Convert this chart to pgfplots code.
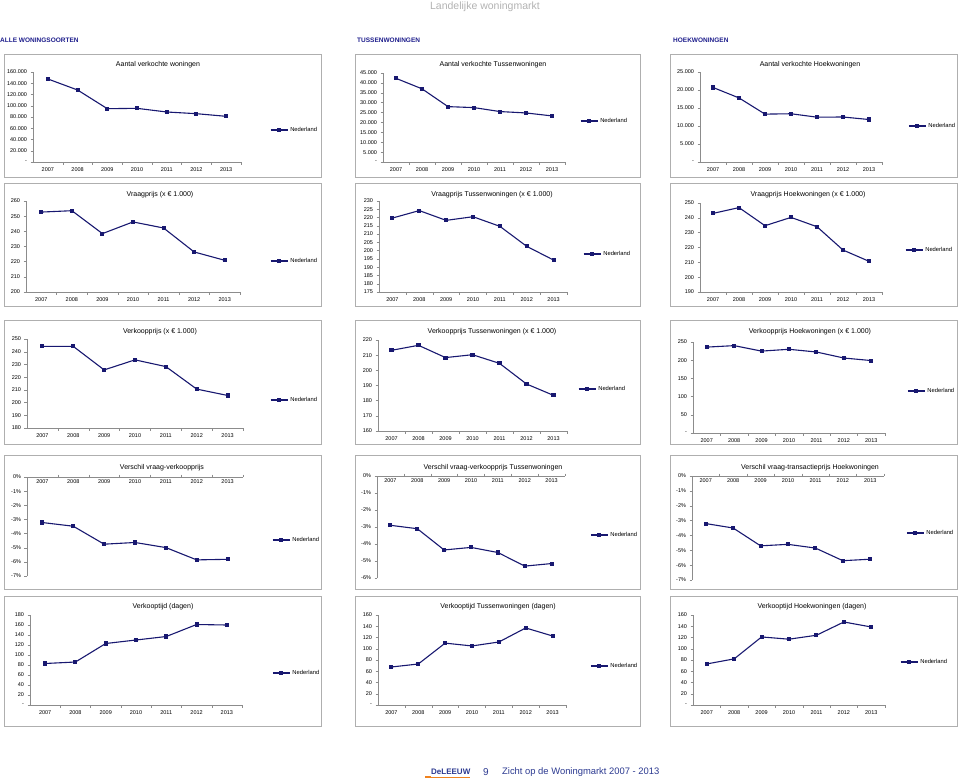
\documentclass[border=0pt]{standalone}
\usepackage{fontspec}
\setmainfont{Liberation Sans}
\usepackage{pgfplots}
\pgfplotsset{compat=1.18}
\definecolor{navy}{RGB}{24,24,112}
\definecolor{axisgray}{RGB}{140,140,140}
\definecolor{framegray}{RGB}{175,175,175}
\definecolor{headblue}{RGB}{30,30,140}
\definecolor{footblue}{RGB}{43,57,144}
\definecolor{logoorange}{RGB}{240,130,30}
\pgfplotsset{
 panel/.style={scale only axis, anchor=south west, xmin=0.5, xmax=7.5,
   xtick={1,2,3,4,5,6,7}, xticklabels={2007,2008,2009,2010,2011,2012,2013},
   minor xtick={1.5,2.5,3.5,4.5,5.5,6.5,7.5},
   axis x line*=bottom, axis y line*=left,
   axis line style={draw=axisgray, line width=0.5pt},
   tick style={draw=axisgray, line width=0.4pt},
   major x tick style={draw=none},
   tick align=outside, major tick length=2.5pt, minor tick length=2.5pt,
   scaled y ticks=false,
   ticklabel style={font=\fontsize{5.5}{6.5}\selectfont},
   legend style={draw=none, fill=none, anchor=west, inner sep=0pt, font=\fontsize{5.8}{7}\selectfont, legend cell align=left},
   clip=false,
 },
 neg/.style={axis x line*=top, xticklabel style={anchor=north, yshift=-2pt}},
 nl/.style={navy, line width=1.1pt, mark=square*, mark size=1.5pt},
}
\begin{document}
\begin{tikzpicture}
\useasboundingbox (0,0) rectangle (960pt,-781pt);
% header
\node[font=\fontsize{10.5}{12}\selectfont, text=black!30] at (485pt,-7pt) {Landelijke woningmarkt};
\node[font=\bfseries\fontsize{6.5}{8}\selectfont, text=headblue, anchor=west, inner sep=0pt] at (0pt,-40pt) {ALLE WONINGSOORTEN};
\node[font=\bfseries\fontsize{6.5}{8}\selectfont, text=headblue, anchor=west, inner sep=0pt] at (357pt,-40pt) {TUSSENWONINGEN};
\node[font=\bfseries\fontsize{6.5}{8}\selectfont, text=headblue, anchor=west, inner sep=0pt] at (673pt,-40pt) {HOEKWONINGEN};
% frames
\foreach \ya/\yb in {54/177,183/306,320/444,455/589,596/726}{
  \draw[framegray, line width=0.7pt] (4pt,-\ya pt) rectangle (321pt,-\yb pt);
  \draw[framegray, line width=0.7pt] (355pt,-\ya pt) rectangle (640pt,-\yb pt);
  \draw[framegray, line width=0.7pt] (670pt,-\ya pt) rectangle (957pt,-\yb pt);
}
% titles
\tikzset{ttl/.style={font=\fontsize{7}{8}\selectfont}}
\node[ttl] at (158pt,-65pt) {Aantal verkochte woningen};
\node[ttl] at (493pt,-65pt) {Aantal verkochte Tussenwoningen};
\node[ttl] at (810pt,-65pt) {Aantal verkochte Hoekwoningen};
\node[ttl] at (160pt,-195pt) {Vraagprijs (x € 1.000)};
\node[ttl] at (492pt,-195pt) {Vraagprijs Tussenwoningen (x € 1.000)};
\node[ttl] at (808pt,-195pt) {Vraagprijs Hoekwoningen (x € 1.000)};
\node[ttl] at (160pt,-332pt) {Verkoopprijs (x € 1.000)};
\node[ttl] at (492pt,-332pt) {Verkoopprijs Tussenwoningen (x € 1.000)};
\node[ttl] at (810pt,-332pt) {Verkoopprijs Hoekwoningen (x € 1.000)};
\node[ttl] at (162pt,-468pt) {Verschil vraag-verkoopprijs};
\node[ttl] at (493pt,-468pt) {Verschil vraag-verkoopprijs Tussenwoningen};
\node[ttl] at (810pt,-468pt) {Verschil vraag-transactieprijs Hoekwoningen};
\node[ttl] at (163pt,-607pt) {Verkooptijd (dagen)};
\node[ttl] at (498pt,-607pt) {Verkooptijd Tussenwoningen (dagen)};
\node[ttl] at (812pt,-607pt) {Verkooptijd Hoekwoningen (dagen)};

% ---------- Row 1
\begin{axis}[panel, at={(33pt,-162pt)}, width=208pt, height=90pt, ymin=0, ymax=160000,
  ytick={0,20000,40000,60000,80000,100000,120000,140000,160000},
  yticklabels={-,20.000,40.000,60.000,80.000,100.000,120.000,140.000,160.000},
  legend style={at={(1.139,0.356)}}]
\addplot[nl] coordinates {(1,147600)(2,128000)(3,94800)(4,95400)(5,88900)(6,85900)(7,81200)};
\addlegendentry{Nederland}
\end{axis}
\begin{axis}[panel, at={(383pt,-162pt)}, width=182pt, height=89pt, ymin=0, ymax=45000,
  ytick={0,5000,10000,15000,20000,25000,30000,35000,40000,45000},
  yticklabels={-,5.000,10.000,15.000,20.000,25.000,30.000,35.000,40.000,45.000},
  legend style={at={(1.082,0.461)}}]
\addplot[nl] coordinates {(1,42300)(2,37000)(3,28000)(4,27500)(5,25500)(6,24800)(7,23300)};
\addlegendentry{Nederland}
\end{axis}
\begin{axis}[panel, at={(700pt,-162pt)}, width=182pt, height=90pt, ymin=0, ymax=25000,
  ytick={0,5000,10000,15000,20000,25000},
  yticklabels={-,5.000,10.000,15.000,20.000,25.000},
  legend style={at={(1.143,0.4)}}]
\addplot[nl] coordinates {(1,20700)(2,17800)(3,13300)(4,13400)(5,12450)(6,12500)(7,11800)};
\addlegendentry{Nederland}
\end{axis}

% ---------- Row 2
\begin{axis}[panel, at={(26pt,-292pt)}, width=214pt, height=91pt, ymin=200, ymax=260,
  ytick={200,210,220,230,240,250,260},
  yticklabels={200,210,220,230,240,250,260},
  legend style={at={(1.140,0.341)}}]
\addplot[nl] coordinates {(1,252.7)(2,253.6)(3,238.5)(4,246.2)(5,242.2)(6,226.4)(7,220.9)};
\addlegendentry{Nederland}
\end{axis}
\begin{axis}[panel, at={(379pt,-292pt)}, width=188pt, height=91pt, ymin=175, ymax=230,
  ytick={175,180,185,190,195,200,205,210,215,220,225,230},
  yticklabels={175,180,185,190,195,200,205,210,215,220,225,230},
  legend style={at={(1.085,0.418)}}]
\addplot[nl] coordinates {(1,219.7)(2,224.2)(3,218.3)(4,220.5)(5,214.7)(6,202.6)(7,194.3)};
\addlegendentry{Nederland}
\end{axis}
\begin{axis}[panel, at={(700pt,-292pt)}, width=182pt, height=89pt, ymin=190, ymax=250,
  ytick={190,200,210,220,230,240,250},
  yticklabels={190,200,210,220,230,240,250},
  legend style={at={(1.126,0.472)}}]
\addplot[nl] coordinates {(1,243.0)(2,246.9)(3,234.7)(4,240.3)(5,234.0)(6,218.3)(7,210.7)};
\addlegendentry{Nederland}
\end{axis}

% ---------- Row 3
\begin{axis}[panel, at={(27pt,-428pt)}, width=216pt, height=89pt, ymin=180, ymax=250,
  ytick={180,190,200,210,220,230,240,250},
  yticklabels={180,190,200,210,220,230,240,250},
  legend style={at={(1.125,0.315)}}]
\addplot[nl] coordinates {(1,244.2)(2,244.2)(3,225.7)(4,233.6)(5,228.3)(6,210.6)(7,205.6)};
\addlegendentry{Nederland}
\end{axis}
\begin{axis}[panel, at={(378pt,-431pt)}, width=189pt, height=91pt, ymin=160, ymax=220,
  ytick={160,170,180,190,200,210,220},
  yticklabels={160,170,180,190,200,210,220},
  legend style={at={(1.058,0.462)}}]
\addplot[nl] coordinates {(1,213.2)(2,216.5)(3,208.4)(4,210.3)(5,204.6)(6,191.0)(7,183.5)};
\addlegendentry{Nederland}
\end{axis}
\begin{axis}[panel, at={(693pt,-433pt)}, width=192pt, height=91pt, ymin=0, ymax=250,
  ytick={0,50,100,150,200,250},
  yticklabels={-,50,100,150,200,250},
  legend style={at={(1.115,0.462)}}]
\addplot[nl] coordinates {(1,236)(2,240)(3,225)(4,230)(5,222.5)(6,206)(7,199)};
\addlegendentry{Nederland}
\end{axis}

% ---------- Row 4
\begin{axis}[panel, neg, at={(27pt,-576pt)}, width=216pt, height=99pt, ymin=-7, ymax=0,
  ytick={-7,-6,-5,-4,-3,-2,-1,0},
  yticklabels={-7\%,-6\%,-5\%,-4\%,-3\%,-2\%,-1\%,0\%},
  legend style={at={(1.134,0.364)}}]
\addplot[nl] coordinates {(1,-3.22)(2,-3.48)(3,-4.75)(4,-4.63)(5,-4.99)(6,-5.86)(7,-5.82)};
\addlegendentry{Nederland}
\end{axis}
\begin{axis}[panel, neg, at={(377pt,-578pt)}, width=188pt, height=102pt, ymin=-6, ymax=0,
  ytick={-6,-5,-4,-3,-2,-1,0},
  yticklabels={-6\%,-5\%,-4\%,-3\%,-2\%,-1\%,0\%},
  legend style={at={(1.133,0.422)}}]
\addplot[nl] coordinates {(1,-2.9)(2,-3.1)(3,-4.35)(4,-4.2)(5,-4.5)(6,-5.3)(7,-5.15)};
\addlegendentry{Nederland}
\end{axis}
\begin{axis}[panel, neg, at={(692pt,-580pt)}, width=192pt, height=104pt, ymin=-7, ymax=0,
  ytick={-7,-6,-5,-4,-3,-2,-1,0},
  yticklabels={-7\%,-6\%,-5\%,-4\%,-3\%,-2\%,-1\%,0\%},
  legend style={at={(1.115,0.452)}}]
\addplot[nl] coordinates {(1,-3.2)(2,-3.5)(3,-4.7)(4,-4.6)(5,-4.85)(6,-5.7)(7,-5.6)};
\addlegendentry{Nederland}
\end{axis}

% ---------- Row 5
\begin{axis}[panel, at={(30pt,-705pt)}, width=212pt, height=90pt, ymin=0, ymax=180,
  ytick={0,20,40,60,80,100,120,140,160,180},
  yticklabels={-,20,40,60,80,100,120,140,160,180},
  legend style={at={(1.142,0.356)}}]
\addplot[nl] coordinates {(1,83)(2,86)(3,123)(4,130)(5,137)(6,161)(7,160)};
\addlegendentry{Nederland}
\end{axis}
\begin{axis}[panel, at={(378pt,-705pt)}, width=188pt, height=90pt, ymin=0, ymax=160,
  ytick={0,20,40,60,80,100,120,140,160},
  yticklabels={-,20,40,60,80,100,120,140,160},
  legend style={at={(1.128,0.433)}}]
\addplot[nl] coordinates {(1,67.6)(2,72.9)(3,110)(4,105)(5,112)(6,137)(7,122.7)};
\addlegendentry{Nederland}
\end{axis}
\begin{axis}[panel, at={(693pt,-705pt)}, width=192pt, height=90pt, ymin=0, ymax=160,
  ytick={0,20,40,60,80,100,120,140,160},
  yticklabels={-,20,40,60,80,100,120,140,160},
  legend style={at={(1.078,0.478)}}]
\addplot[nl] coordinates {(1,73)(2,82)(3,121)(4,117)(5,124)(6,147.6)(7,138.7)};
\addlegendentry{Nederland}
\end{axis}

% footer
\fill[logoorange] (425pt,-776pt) rectangle (431pt,-777.5pt);
\node[font=\bfseries\fontsize{8}{9}\selectfont, text=footblue, anchor=west, inner sep=0pt] at (431pt,-772pt) {DeLEEUW};
\fill[logoorange] (431pt,-776.5pt) rectangle (470pt,-777.5pt);
\node[font=\fontsize{10}{11}\selectfont, text=footblue, anchor=west, inner sep=0pt] at (483pt,-772pt) {9};
\node[font=\fontsize{9.4}{11}\selectfont, text=footblue, anchor=west, inner sep=0pt] at (502pt,-772pt) {Zicht op de Woningmarkt 2007 - 2013};
\end{tikzpicture}
\end{document}
